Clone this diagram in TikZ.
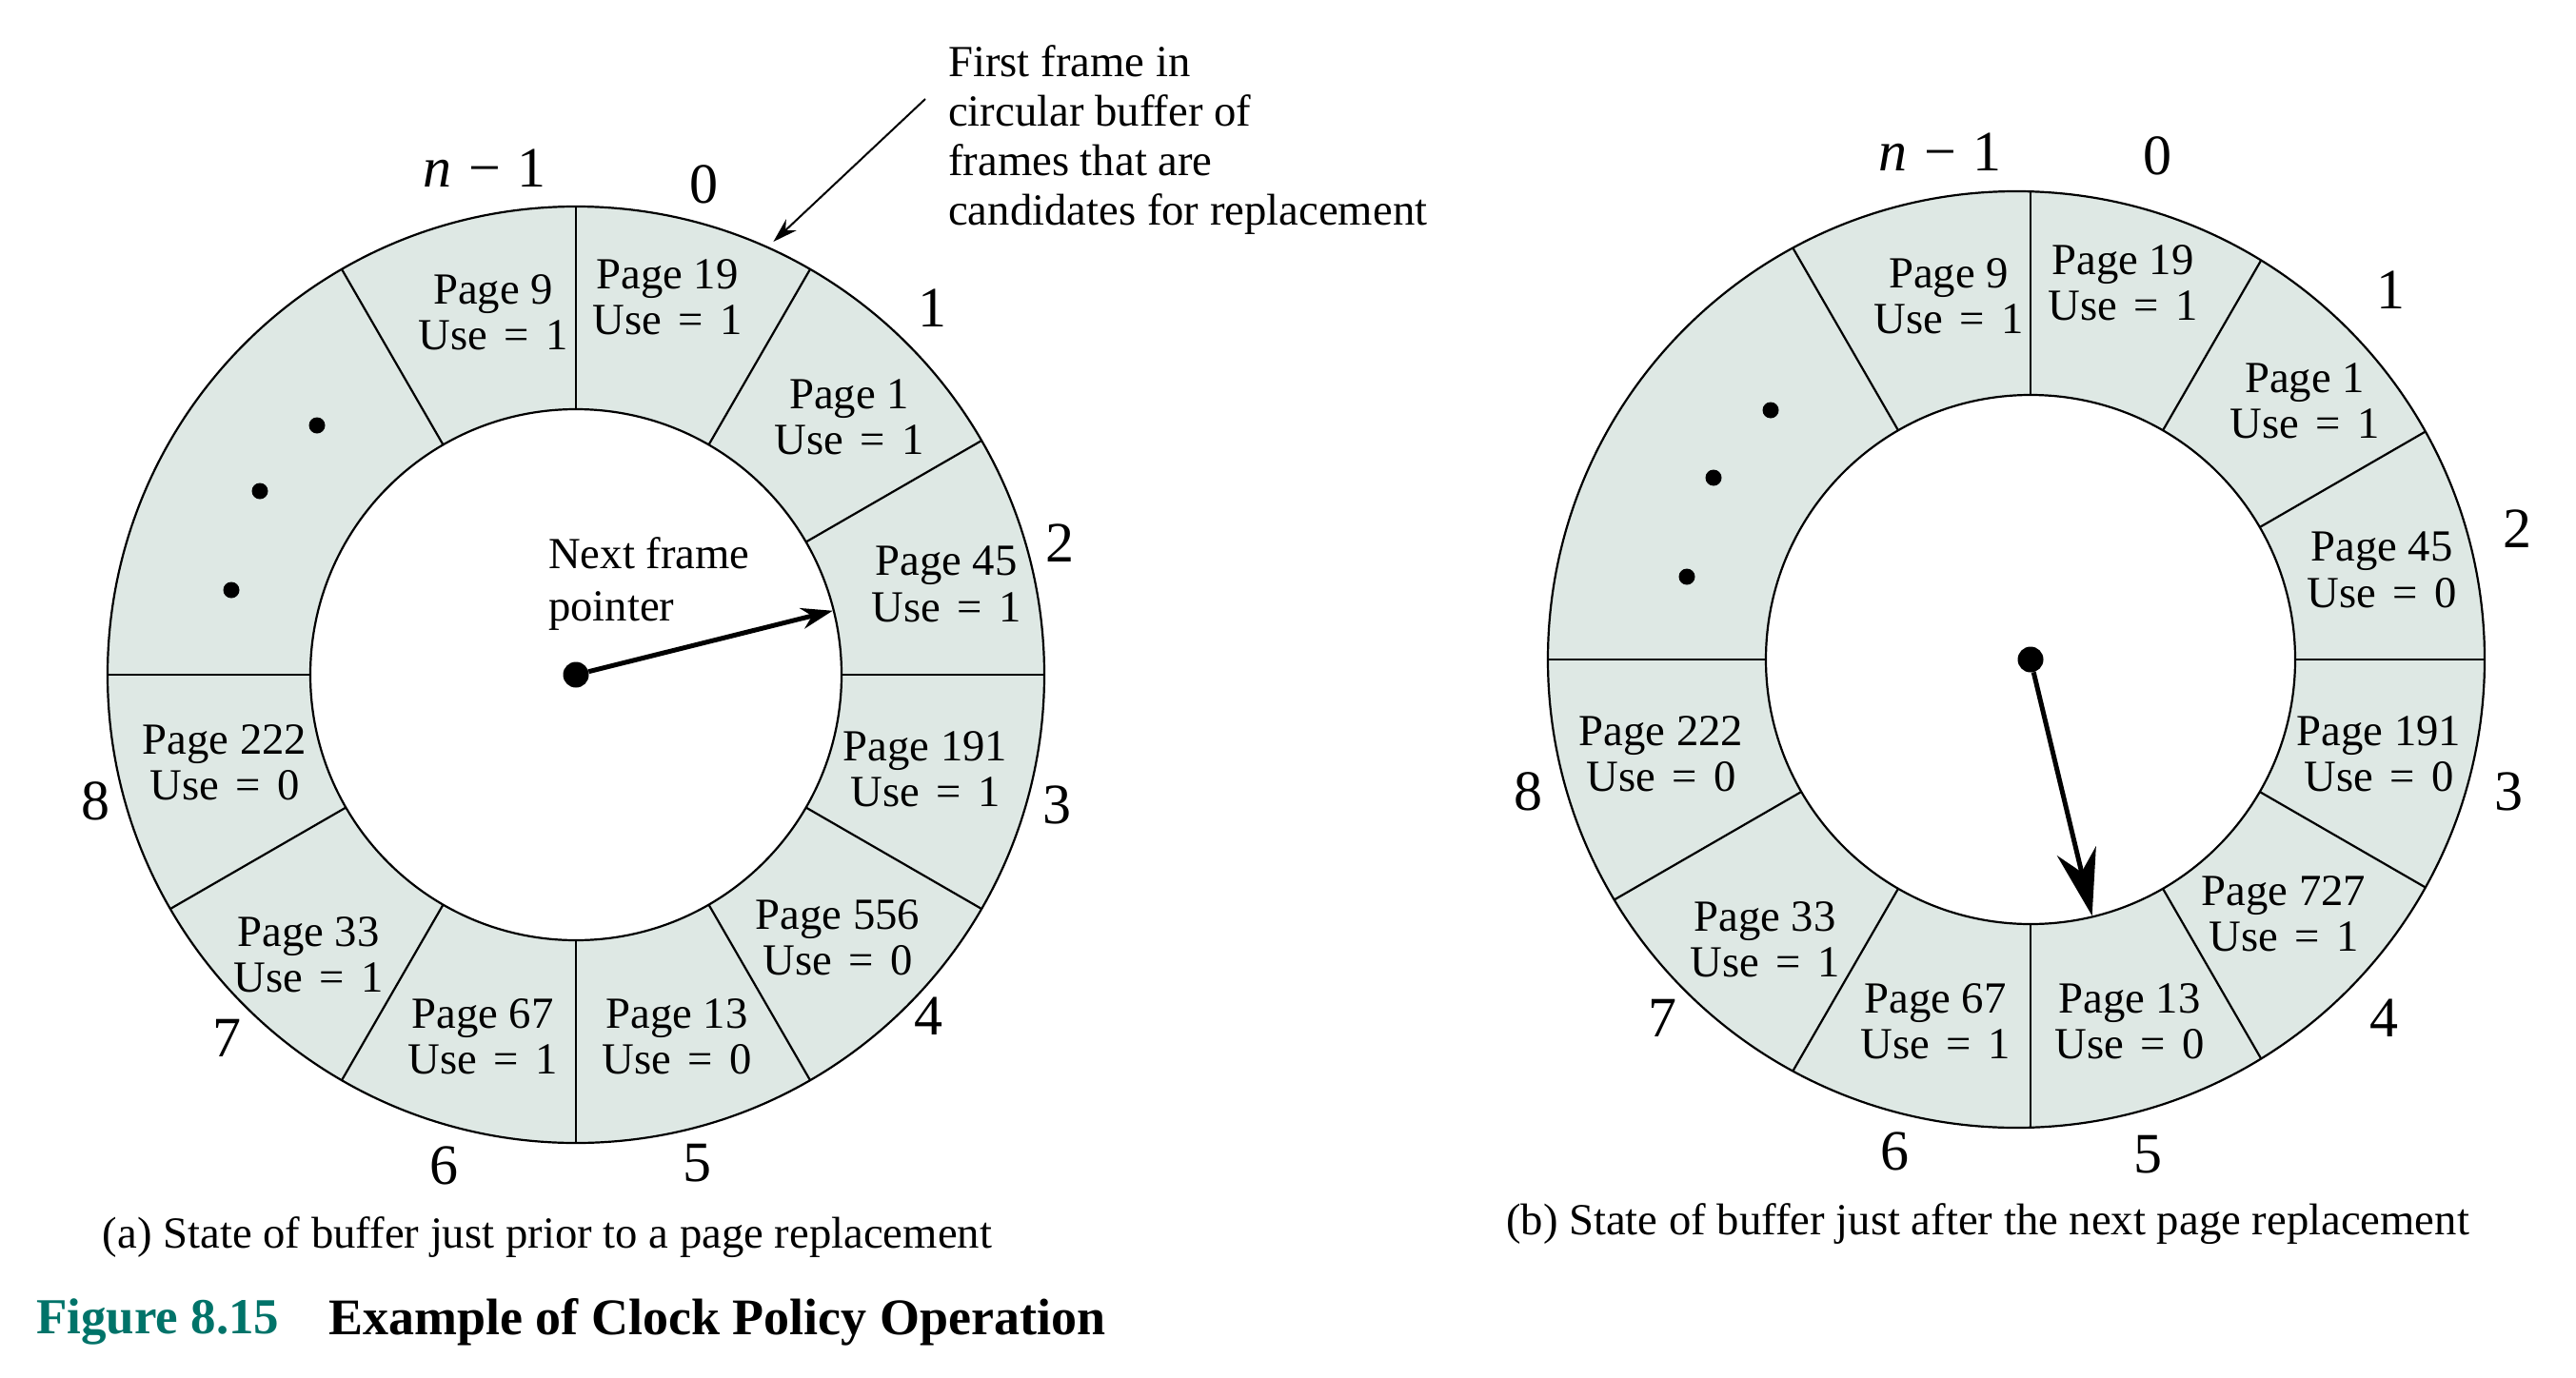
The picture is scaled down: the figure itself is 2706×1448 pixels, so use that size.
\documentclass[tikz,border=0pt]{standalone}
\usepackage{fontspec}
\setmainfont{Liberation Serif}
\usetikzlibrary{arrows.meta,calc}
\definecolor{ringfill}{RGB}{222,232,228}
\definecolor{figteal}{RGB}{0,115,105}
\newcommand{\Eq}{\hspace{.37em}=\hspace{.37em}}
\newcommand{\nmo}{\textit{n}\hspace{.3em}−\hspace{.3em}1}
\begin{document}
\begin{tikzpicture}[x=1pt,y=-1pt,
  pg/.style={font=\fontsize{46.7}{48.3}\selectfont, align=center, inner sep=0pt},
  lbl/.style={font=\fontsize{60}{60}\selectfont, inner sep=0pt},
  txt/.style={font=\fontsize{46.7}{55}\selectfont, inner sep=0pt, align=left},
  ringline/.style={line width=2.2pt},
  ptrL/.style={line width=5pt, -{Stealth[length=33pt,width=22pt]}},
  ptrR/.style={line width=5pt, -{Stealth[length=70pt,width=42pt]}},
  annarrow/.style={line width=2pt, -{Stealth[length=26pt,width=16pt]}},
  hub/.style={circle, fill=black, inner sep=0pt, minimum size=27pt},
  ddot/.style={circle, fill=black, inner sep=0pt, minimum size=17pt}]
\useasboundingbox (0,0) rectangle (2706,1448);

% ---------------- left clock ----------------
\coordinate (L) at (605,709);
\path[fill=ringfill, even odd rule] (L) circle[radius=492pt] (L) circle[radius=279pt];
\draw[ringline] (L) circle[radius=492pt];
\draw[ringline] (L) circle[radius=279pt];
\begin{scope}[shift={(L)}]
  \foreach \a in {90,60,30,0,-30,-60,-90,-120,-150,180,120}
    \draw[ringline] (\a:279pt) -- (\a:492pt);
\end{scope}

\node[pg] (a9)   at (518,328)  {Page 9\\Use\Eq 1};
\node[pg] (a19)  at (701,312)  {Page 19\\Use\Eq 1};
\node[pg] (a1)   at (892,438)  {Page 1\\Use\Eq 1};
\node[pg] (a45)  at (994,614)  {Page 45\\Use\Eq 1};
\node[pg] (a191) at (972,808)  {Page 191\\Use\Eq 1};
\node[pg] (a556) at (880,985)  {Page 556\\Use\Eq 0};
\node[pg] (a13)  at (711,1089) {Page 13\\Use\Eq 0};
\node[pg] (a67)  at (507,1089) {Page 67\\Use\Eq 1};
\node[pg] (a33)  at (324,1003) {Page 33\\Use\Eq 1};
\node[pg] (a222) at (236,801)  {Page 222\\Use\Eq 0};

\node[ddot] (ad1) at (333,447) {};
\node[ddot] (ad2) at (273,516) {};
\node[ddot] (ad3) at (243,620) {};

\node[lbl] (lan) at (509,177)  {\nmo};
\node[lbl] (la0) at (739,194)  {0};
\node[lbl] (la1) at (979,324)  {1};
\node[lbl] (la2) at (1113,571) {2};
\node[lbl] (la3) at (1110,846) {3};
\node[lbl] (la4) at (975,1068) {4};
\node[lbl] (la5) at (732,1222) {5};
\node[lbl] (la6) at (466,1225) {6};
\node[lbl] (la7) at (238,1091) {7};
\node[lbl] (la8) at (100,842)  {8};

\node[txt, anchor=west] (nfp) at (576,614) {Next frame\\pointer};
\node[hub] (hubL) at (L) {};
\coordinate (tipL) at ($(L)+(14:278pt)$);
\draw[ptrL] (hubL) -- (tipL);

\node[txt, anchor=west, font=\fontsize{46.7}{52.3}\selectfont] (ann) at (996,147)
  {First frame in\\circular buffer of\\frames that are\\candidates for replacement};
\coordinate (annS) at (972,104);
\coordinate (annT) at ($(L)+(65.5:500pt)$);
\draw[annarrow] (annS) -- (annT);

\node[pg] (capa) at (575,1300) {(a) State of buffer just prior to a page replacement};

% ---------------- right clock ----------------
\coordinate (RI) at (2133,693);
\coordinate (RO) at (2118,693);
\path[fill=ringfill, even odd rule] (RO) circle[radius=492pt] (RI) circle[radius=278pt];
\draw[ringline] (RO) circle[radius=492pt];
\draw[ringline] (RI) circle[radius=278pt];
\begin{scope}
  \clip (RO) circle[radius=492pt];
  \begin{scope}[shift={(RI)}]
    \foreach \a in {90,60,30,0,-30,-60,-90,-120,-150,180,120}
      \draw[ringline] (\a:278pt) -- (\a:560pt);
  \end{scope}
\end{scope}

\node[pg] (b9)   at (2047,311)  {Page 9\\Use\Eq 1};
\node[pg] (b19)  at (2230,297)  {Page 19\\Use\Eq 1};
\node[pg] (b1)   at (2421,421)  {Page 1\\Use\Eq 1};
\node[pg] (b45)  at (2502,599)  {Page 45\\Use\Eq 0};
\node[pg] (b191) at (2499,792)  {Page 191\\Use\Eq 0};
\node[pg] (b727) at (2399,960)  {Page 727\\Use\Eq 1};
\node[pg] (b13)  at (2237,1073) {Page 13\\Use\Eq 0};
\node[pg] (b67)  at (2033,1073) {Page 67\\Use\Eq 1};
\node[pg] (b33)  at (1854,987)  {Page 33\\Use\Eq 1};
\node[pg] (b222) at (1745,792)  {Page 222\\Use\Eq 0};

\node[ddot] (bd1) at (1860,431) {};
\node[ddot] (bd2) at (1800,502) {};
\node[ddot] (bd3) at (1772,606) {};

\node[lbl] (lbn) at (2038,160)  {\nmo};
\node[lbl] (lb0) at (2266,164)  {0};
\node[lbl] (lb1) at (2511,305)  {1};
\node[lbl] (lb2) at (2644,556)  {2};
\node[lbl] (lb3) at (2635,832)  {3};
\node[lbl] (lb4) at (2504,1070) {4};
\node[lbl] (lb5) at (2256,1213) {5};
\node[lbl] (lb6) at (1990,1210) {6};
\node[lbl] (lb7) at (1746,1070) {7};
\node[lbl] (lb8) at (1605,832)  {8};

\node[hub] (hubR) at (RI) {};
\coordinate (tipR) at ($(RI)+(-76.5:277pt)$);
\draw[ptrR] (hubR) -- (tipR);

\node[pg] (capb) at (2088,1286) {(b) State of buffer just after the next page replacement};

% ---------------- figure title ----------------
\node[inner sep=0pt, anchor=west, font=\fontsize{53}{53}\selectfont\bfseries, text=figteal]
  (fignum) at (38,1389) {Figure 8.15};
\node[inner sep=0pt, anchor=west, font=\fontsize{54}{54}\selectfont\bfseries]
  (figtitle) at (345,1389) {Example of Clock Policy Operation};
\end{tikzpicture}
\end{document}
